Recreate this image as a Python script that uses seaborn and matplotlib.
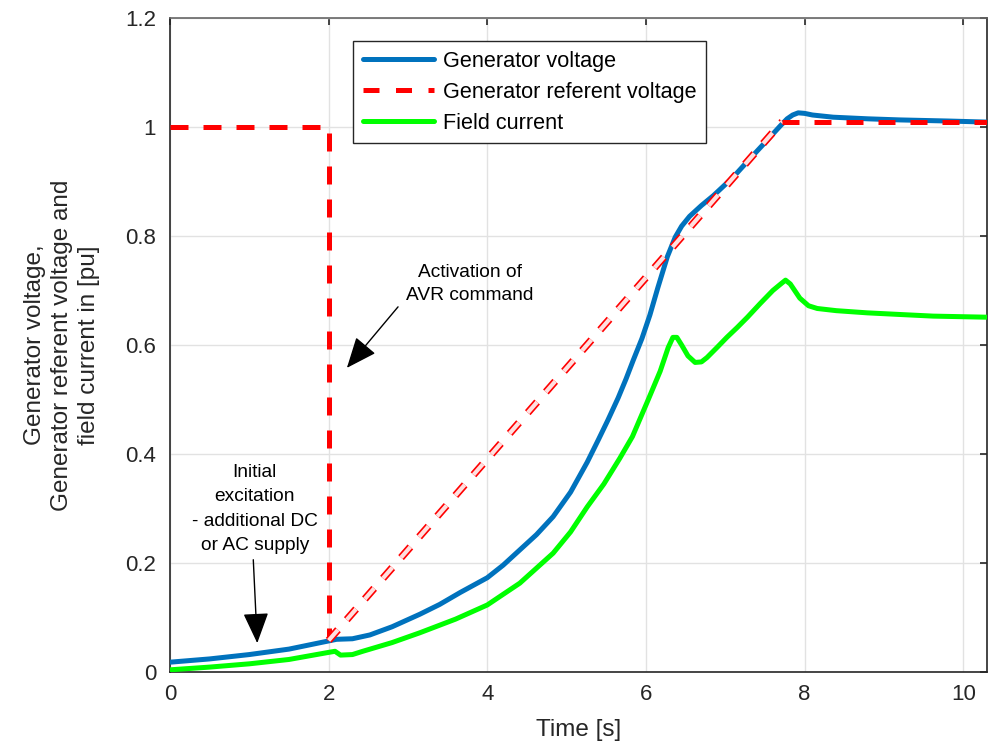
import numpy as np
import pandas as pd
import matplotlib
matplotlib.use("Agg")
import matplotlib.pyplot as plt
import matplotlib.patheffects as pe
from matplotlib.lines import Line2D
import seaborn as sns

# ---- data ----
gen_t = [0.0, 0.5, 1.0, 1.5, 2.0, 2.1, 2.3, 2.52, 2.8, 3.15, 3.4, 3.66, 4.0, 4.2, 4.41,
         4.62, 4.83, 5.05, 5.26, 5.4, 5.52, 5.65, 5.75, 5.84, 5.95, 6.05, 6.15, 6.27,
         6.37, 6.45, 6.55, 6.7, 6.85, 7.1, 7.3, 7.53, 7.7, 7.78, 7.85, 7.92, 8.0, 8.1,
         8.36, 8.8, 9.2, 9.8, 10.3]
gen_v = [0.018, 0.024, 0.032, 0.042, 0.057, 0.060, 0.061, 0.068, 0.083, 0.106, 0.124,
         0.146, 0.173, 0.196, 0.224, 0.252, 0.285, 0.330, 0.385, 0.426, 0.462, 0.503,
         0.538, 0.572, 0.612, 0.655, 0.705, 0.762, 0.798, 0.818, 0.836, 0.856, 0.874,
         0.908, 0.940, 0.976, 1.003, 1.015, 1.022, 1.026, 1.025, 1.022, 1.018, 1.015,
         1.013, 1.011, 1.009]

field_t = [0.0, 0.5, 1.0, 1.5, 2.0, 2.08, 2.15, 2.3, 2.43, 2.8, 3.15, 3.6, 4.0, 4.41,
           4.83, 5.05, 5.26, 5.47, 5.67, 5.83, 6.03, 6.18, 6.28, 6.34, 6.39, 6.45,
           6.53, 6.62, 6.7, 6.77, 6.9, 7.02, 7.15, 7.28, 7.44, 7.6, 7.7, 7.76, 7.82,
           7.94, 8.05, 8.16, 8.4, 8.79, 9.2, 9.62, 10.3]
field_v = [0.004, 0.009, 0.015, 0.023, 0.036, 0.038, 0.031, 0.032, 0.038, 0.054, 0.072,
           0.097, 0.123, 0.163, 0.218, 0.257, 0.303, 0.345, 0.392, 0.432, 0.500, 0.552,
           0.595, 0.614, 0.614, 0.600, 0.580, 0.568, 0.569, 0.577, 0.596, 0.614, 0.632,
           0.651, 0.676, 0.700, 0.712, 0.719, 0.712, 0.686, 0.672, 0.667, 0.663, 0.659,
           0.656, 0.653, 0.651]

ref_t = [0.0, 2.0, 2.0, 7.72, 10.3]
ref_v = [1.0, 1.0, 0.058, 1.01, 1.01]

labels = ["Generator voltage", "Generator referent voltage", "Field current"]
x_ticks = [0, 2, 4, 6, 8, 10]
y_ticks = [0, 0.2, 0.4, 0.6, 0.8, 1.0, 1.2]
y_tick_labels = ["0", "0.2", "0.4", "0.6", "0.8", "1", "1.2"]

C_BLUE = "#0072BD"
C_RED = "#FF0000"
C_GREEN = "#00FF00"

sns.set_theme(style="whitegrid")
plt.rcParams["font.family"] = ["Liberation Sans", "DejaVu Sans"]

fig = plt.figure(figsize=(9.91, 7.49), dpi=100)
ax = fig.add_axes([170 / 991, 1 - 672 / 749, (987 - 170) / 991, (672 - 18) / 749])
ax.set_facecolor("white")

gen_df = pd.DataFrame({"t": gen_t, "v": gen_v})
field_df = pd.DataFrame({"t": field_t, "v": field_v})

sns.lineplot(data=field_df, x="t", y="v", ax=ax, color=C_GREEN, lw=3.6,
             estimator=None, sort=False, zorder=3)
sns.lineplot(data=gen_df, x="t", y="v", ax=ax, color=C_BLUE, lw=3.6,
             estimator=None, sort=False, zorder=4)

# reference: step part (solid dashes), ramp (outlined dashes), final flat part
ax.plot(ref_t[0:3], ref_v[0:3], color=C_RED, lw=3.6, dashes=(3.6, 3.0), zorder=5,
        dash_capstyle="butt")
ax.plot(ref_t[2:4], ref_v[2:4], color="#ffe0e0", lw=3.0, dashes=(3.4, 3.2), zorder=5,
        dash_capstyle="butt",
        path_effects=[pe.Stroke(linewidth=5.4, foreground=C_RED), pe.Normal()])
ax.plot(ref_t[3:5], ref_v[3:5], color=C_RED, lw=3.6, dashes=(3.4, 3.0), zorder=5,
        dash_capstyle="butt")

ax.set_xlim(0, 10.3)
ax.set_ylim(0, 1.2)
ax.set_xticks(x_ticks)
ax.set_yticks(y_ticks)
ax.set_yticklabels(y_tick_labels)
ax.tick_params(axis="both", direction="in", length=5, width=1.2, colors="#262626",
               labelsize=16, labelcolor="#262626", top=True, right=True)
ax.tick_params(axis="y", pad=10)
ax.tick_params(axis="x", pad=9)
ax.grid(True, color="#e2e2e2", lw=1.0)
for s in ax.spines.values():
    s.set_visible(True)
    s.set_color("#262626")
    s.set_linewidth(1.2)
ax.spines["top"].set_color("#666666")

ax.set_xlabel("Time [s]", fontsize=17.5, color="#262626", labelpad=10)
ax.set_ylabel("Generator voltage,\nGenerator referent voltage and\nfield current in [pu]",
              fontsize=17.5, color="#262626", labelpad=18, linespacing=1.3)

# annotations
arrow_kw = dict(arrowstyle="-|>,head_length=1.2,head_width=0.5", color="black",
                lw=1.0, mutation_scale=16, shrinkA=0, shrinkB=0)
ax.annotate("", xy=(2.23, 0.558), xytext=(2.875, 0.670), arrowprops=arrow_kw)
ax.text(3.78, 0.712, "Activation of\nAVR command", ha="center", va="center",
        fontsize=13.8, color="black", linespacing=1.5)
ax.annotate("", xy=(1.10, 0.053), xytext=(1.05, 0.206), arrowprops=arrow_kw)
ax.text(1.07, 0.299, "Initial\nexcitation\n- additional DC\nor AC supply",
        ha="center", va="center", fontsize=13.8, color="black", linespacing=1.55)

handles = [Line2D([], [], color=C_BLUE, lw=3.6),
           Line2D([], [], color=C_RED, lw=3.6, dashes=(3.2, 3.3)),
           Line2D([], [], color=C_GREEN, lw=3.6)]
leg = ax.legend(handles, labels, loc="upper left", bbox_to_anchor=(0.224, 0.965),
                borderaxespad=0, fontsize=15.6, frameon=True, fancybox=False,
                framealpha=1, edgecolor="#262626", handlelength=3.3,
                handletextpad=0.4, labelspacing=0.46, borderpad=0.45)
leg.get_frame().set_linewidth(1.0)
for t in leg.get_texts():
    t.set_color("black")

fig.savefig("out.png", dpi=100)
